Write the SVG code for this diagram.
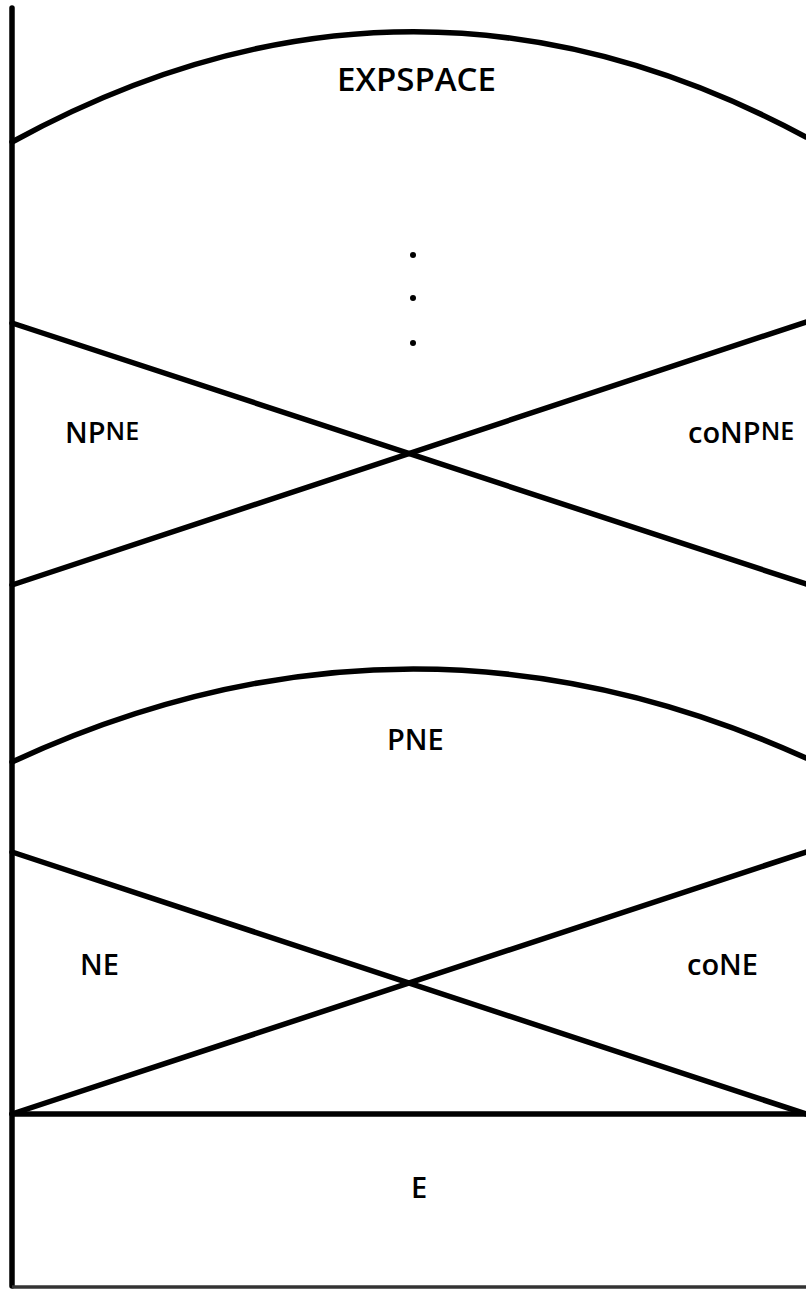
<svg xmlns="http://www.w3.org/2000/svg" width="806" height="1290" viewBox="0 0 806 1290">
  <style>
    .ln { fill: none; stroke: #000; stroke-width: 5.5; stroke-linecap: round; stroke-linejoin: round; }
    .base { fill: none; stroke: #333; stroke-width: 3.5; }
    .lbl { font-family: "Open Sans", "Liberation Sans", sans-serif; font-weight: 600; fill: #000; }
    .big { font-size: 33px; }
    .mid { font-size: 29px; }
    .sup { font-size: 25px; }
  </style>
  <rect width="806" height="1290" fill="#fff"/>

  <!-- frame and class boundaries -->
  <g id="connectors">
    <line class="ln" x1="12" y1="8" x2="12" y2="1286"/>
    <line class="base" x1="12" y1="1287" x2="806" y2="1287"/>
    <path class="ln" d="M12,142 Q409,-76 806,137"/>
    <line class="ln" x1="12" y1="323" x2="806" y2="584"/>
    <line class="ln" x1="12" y1="585" x2="806" y2="322"/>
    <path class="ln" d="M12,762 Q409,578 806,758"/>
    <line class="ln" x1="12" y1="852" x2="806" y2="1114"/>
    <line class="ln" x1="12" y1="1114" x2="806" y2="852"/>
    <line class="ln" x1="12" y1="1114" x2="806" y2="1114"/>
  </g>

  <g id="expspace">
    <text class="lbl big" x="337" y="91">EXPSPACE</text>
  </g>

  <g id="ellipsis">
    <circle cx="413" cy="255" r="3"/>
    <circle cx="413" cy="298" r="3"/>
    <circle cx="413" cy="343" r="3"/>
  </g>

  <g id="npne">
    <text class="lbl mid" x="65" y="443">NP<tspan class="sup" dy="-3">NE</tspan></text>
  </g>

  <g id="conpne">
    <text class="lbl mid" x="688" y="443">coNP<tspan class="sup" dy="-3">NE</tspan></text>
  </g>

  <g id="pne">
    <text class="lbl mid" x="387" y="750">PNE</text>
  </g>

  <g id="ne">
    <text class="lbl mid" x="80" y="975">NE</text>
  </g>

  <g id="cone">
    <text class="lbl mid" x="687" y="975">coNE</text>
  </g>

  <g id="e">
    <text class="lbl mid" x="411" y="1198">E</text>
  </g>
</svg>
